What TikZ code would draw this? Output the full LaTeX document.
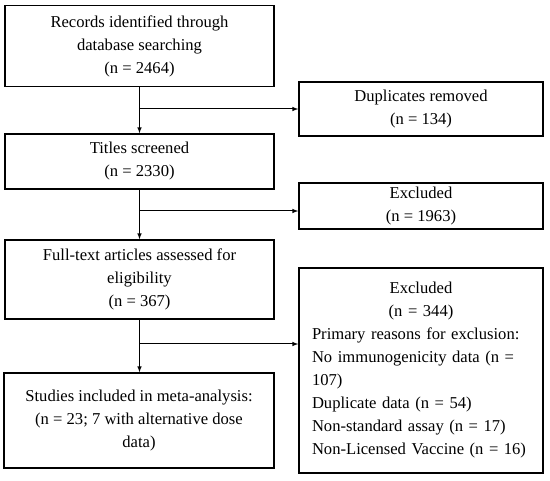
\documentclass[tikz,border=0pt]{standalone}
\usepackage{fontspec}
\setmainfont{Liberation Serif}
\usepackage{tikz}
\tikzstyle{flowBox}=[shape = rectangle, draw, line width = 1.5pt, inner sep = 2pt, align = center, font = \fontsize{16.6}{23}\selectfont]
\tikzstyle{flowArrow}=[-latex, line width = 1pt]

\begin{document}
\begin{tikzpicture}[x = 1pt, y = -1pt]
\useasboundingbox (0,0) rectangle (550,481);
\node[flowBox, minimum width = 269pt, minimum height = 81pt] (b0) at (139.5,46) {Records identified through\\database searching\\(n = 2464)};
\node[flowBox, minimum width = 244pt, minimum height = 54pt] (b1) at (421,109) {Duplicates removed\\(n = 134)};
\node[flowBox, minimum width = 269pt, minimum height = 55pt] (b2) at (139.5,161.5) {Titles screened\\(n = 2330)};
\node[flowBox, minimum width = 244pt, minimum height = 46pt] (b3) at (421,206) {Excluded\\(n = 1963)};
\node[flowBox, minimum width = 269pt, minimum height = 79pt] (b4) at (139.5,279.5) {Full-text articles assessed for\\eligibility\\(n = 367)};
\node[flowBox, minimum width = 244pt, minimum height = 205pt, text width = 218pt, align = left] (b5) at (421,370.5) {{\centering Excluded\\(n = 344)\par}\raggedright Primary reasons for exclusion:\\No immunogenicity data (n =\\107)\\Duplicate data (n = 54)\\Non-standard assay (n = 17)\\Non-Licensed Vaccine (n = 16)};
\node[flowBox, minimum width = 270pt, minimum height = 95pt] (b6) at (139,420.5) {Studies included in meta-analysis:\\(n = 23; 7 with alternative dose\\data)};
\coordinate (j0) at (139.5,109);
\coordinate (j1) at (139.5,211);
\coordinate (j2) at (139.5,344);
\draw[flowArrow] (b0) -- (b2);
\draw[flowArrow] (b2) -- (b4);
\draw[flowArrow] (b4.south) -- (b4.south |- b6.north);
\draw[flowArrow] (j0) -- (b1.west);
\draw[flowArrow] (j1) -- (j1 -| b3.west);
\draw[flowArrow] (j2) -- (j2 -| b5.west);
\end{tikzpicture}
\end{document}
